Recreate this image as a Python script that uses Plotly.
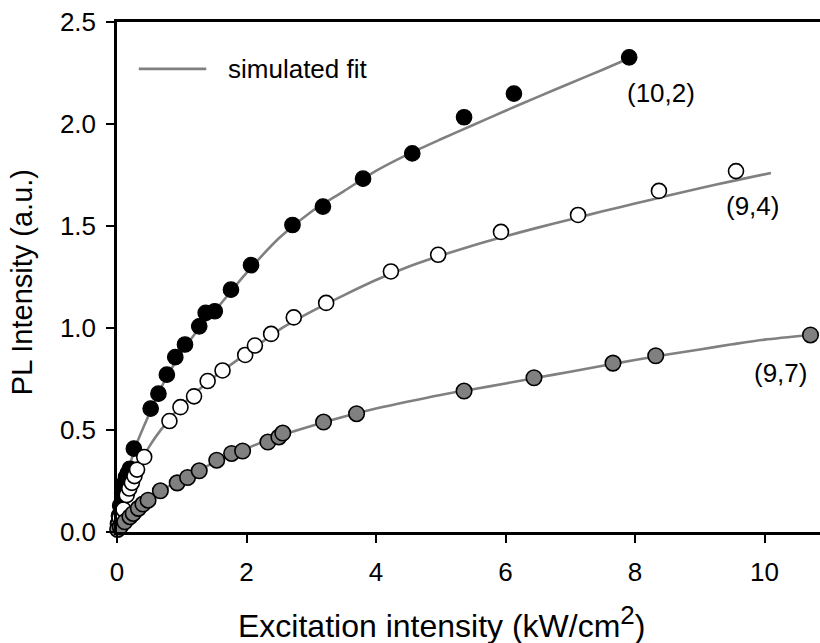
import plotly.graph_objects as go

# ---- data ----
x_102 = [0.015, 0.03, 0.05, 0.08, 0.11, 0.14, 0.17, 0.20, 0.26, 0.52, 0.64, 0.77, 0.90, 1.05,
         1.27, 1.37, 1.51, 1.76, 2.07, 2.71, 3.18, 3.80, 4.56, 5.36, 6.13, 7.91]
y_102 = [0.04, 0.08, 0.13, 0.19, 0.24, 0.27, 0.29, 0.31, 0.409, 0.605, 0.678, 0.771, 0.857, 0.919,
         1.008, 1.074, 1.082, 1.188, 1.308, 1.505, 1.595, 1.732, 1.856, 2.033, 2.149, 2.327]

x_94 = [0.02, 0.04, 0.10, 0.15, 0.19, 0.23, 0.27, 0.31, 0.42, 0.81, 0.98, 1.19, 1.40, 1.63,
        1.98, 2.13, 2.38, 2.73, 3.23, 4.23, 4.96, 5.93, 7.12, 8.37, 9.56]
y_94 = [0.04, 0.07, 0.11, 0.181, 0.213, 0.241, 0.274, 0.306, 0.368, 0.544, 0.612, 0.665, 0.740, 0.792,
        0.868, 0.914, 0.971, 1.052, 1.123, 1.277, 1.359, 1.471, 1.554, 1.672, 1.769]

x_97 = [0.01, 0.05, 0.12, 0.20, 0.25, 0.33, 0.40, 0.48, 0.67, 0.93, 1.09, 1.27, 1.54, 1.77,
        1.94, 2.33, 2.50, 2.56, 3.19, 3.70, 5.36, 6.44, 7.66, 8.32, 10.71]
y_97 = [0.013, 0.026, 0.050, 0.075, 0.091, 0.116, 0.137, 0.156, 0.202, 0.241, 0.267, 0.300, 0.352, 0.385,
        0.397, 0.441, 0.466, 0.485, 0.539, 0.580, 0.691, 0.756, 0.828, 0.864, 0.966]

# simulated fit curves
fx_102 = [0, 0.05, 0.1, 0.2, 0.3, 0.5, 0.75, 1.0, 1.25, 1.5, 2.0, 2.5, 3.0, 3.5, 4.0, 4.5,
          5.0, 5.5, 6.0, 6.5, 7.0, 7.5, 7.91]
fy_102 = [0, 0.12, 0.20, 0.33, 0.43, 0.58, 0.75, 0.88, 0.99, 1.08, 1.27, 1.44, 1.57, 1.67, 1.77, 1.852,
          1.925, 1.995, 2.065, 2.133, 2.20, 2.266, 2.322]

fx_94 = [0, 0.05, 0.1, 0.2, 0.3, 0.5, 0.75, 1.0, 1.5, 2.0, 2.5, 3.0, 3.5, 4.0, 4.5, 5.0, 5.5,
         6.0, 6.5, 7.0, 7.5, 8.0, 8.5, 9.0, 9.5, 10.1]
fy_94 = [0, 0.08, 0.14, 0.23, 0.30, 0.42, 0.53, 0.62, 0.76, 0.875, 0.99, 1.08, 1.16, 1.235, 1.30, 1.355, 1.405,
         1.45, 1.492, 1.532, 1.572, 1.61, 1.648, 1.685, 1.72, 1.76]

fx_97 = [0, 0.1, 0.25, 0.5, 0.75, 1.0, 1.5, 2.0, 2.5, 3.0, 3.5, 4.0, 4.5, 5.0, 5.5, 6.0, 6.5,
         7.0, 7.5, 8.0, 8.5, 9.0, 9.5, 10.0, 10.71]
fy_97 = [0, 0.04, 0.09, 0.16, 0.215, 0.26, 0.34, 0.41, 0.47, 0.52, 0.565, 0.605, 0.64, 0.672, 0.70, 0.728, 0.757,
         0.786, 0.815, 0.843, 0.87, 0.895, 0.92, 0.943, 0.966]

labels = ["(10,2)", "(9,4)", "(9,7)"]
label_x = [8.40, 9.82, 10.25]
label_y = [2.15, 1.60, 0.777]

x_ticks = [0, 2, 4, 6, 8, 10]
y_ticks = [0.0, 0.5, 1.0, 1.5, 2.0, 2.5]
y_tick_text = ["0.0", "0.5", "1.0", "1.5", "2.0", "2.5"]

x_title = 'Excitation intensity (kW/cm<sup><span style="font-size:26px">2</span></sup>)'
y_title = "PL Intensity (a.u.)"

FONT = "Liberation Sans, Arial, sans-serif"
FIT = "#808080"
TICK_SIZE = 26
TITLE_SIZE = 32

fig = go.Figure()
for fx, fy in [(fx_102, fy_102), (fx_94, fy_94), (fx_97, fy_97)]:
    fig.add_trace(go.Scatter(x=fx, y=fy, mode="lines",
                             line=dict(color=FIT, width=2.6, shape="spline", smoothing=0.8),
                             showlegend=False, hoverinfo="skip"))

fig.add_trace(go.Scatter(x=x_102, y=y_102, mode="markers", cliponaxis=False, showlegend=False,
                         marker=dict(size=15.5, color="black", line=dict(color="black", width=1.2))))
fig.add_trace(go.Scatter(x=x_94, y=y_94, mode="markers", cliponaxis=False, showlegend=False,
                         marker=dict(size=15, color="white", line=dict(color="black", width=1.6))))
fig.add_trace(go.Scatter(x=x_97, y=y_97, mode="markers", cliponaxis=False, showlegend=False,
                         marker=dict(size=15.5, color="#808080", line=dict(color="black", width=1.6))))

for t, lx, ly in zip(labels, label_x, label_y):
    fig.add_annotation(x=lx, y=ly, text=t, showarrow=False, xanchor="center", yanchor="middle",
                       font=dict(family=FONT, size=TICK_SIZE, color="black"))

# legend entry
fig.add_shape(type="line", xref="paper", yref="paper", x0=0.031, x1=0.127, y0=0.908, y1=0.908,
              line=dict(color=FIT, width=2.6))
fig.add_annotation(xref="paper", yref="paper", x=0.155, y=0.908, text="simulated fit", showarrow=False,
                   xanchor="left", yanchor="middle", font=dict(family=FONT, size=TICK_SIZE, color="black"))

# axis titles
fig.add_annotation(xref="paper", yref="paper", x=0.4623, y=-0.176, text=x_title, showarrow=False,
                   xanchor="center", yanchor="middle", font=dict(family=FONT, size=TITLE_SIZE, color="black"))
fig.add_annotation(xref="paper", yref="paper", x=-0.135, y=0.49, text=y_title, showarrow=False,
                   textangle=-90, xanchor="center", yanchor="middle",
                   font=dict(family=FONT, size=29, color="black"))

fig.update_layout(
    width=820, height=643,
    margin=dict(l=117, r=0, t=22, b=111),
    paper_bgcolor="white", plot_bgcolor="white",
    font=dict(family=FONT, size=TICK_SIZE, color="black"),
    showlegend=False,
)
fig.update_xaxes(range=[0, 10.857], tickvals=x_ticks, ticks="outside", ticklen=8, tickwidth=2,
                 tickcolor="black", showline=True, linecolor="black", linewidth=2.5, mirror=True,
                 showgrid=False, zeroline=False, ticklabelstandoff=7,
                 tickfont=dict(family=FONT, size=TICK_SIZE))
fig.update_yaxes(range=[0, 2.5], tickvals=y_ticks, ticktext=y_tick_text, ticks="outside", ticklen=8,
                 tickwidth=2, tickcolor="black", showline=True, linecolor="black", linewidth=2.5,
                 showgrid=False, zeroline=False, ticklabelstandoff=5,
                 tickfont=dict(family=FONT, size=TICK_SIZE))

fig.write_html("out.html")
